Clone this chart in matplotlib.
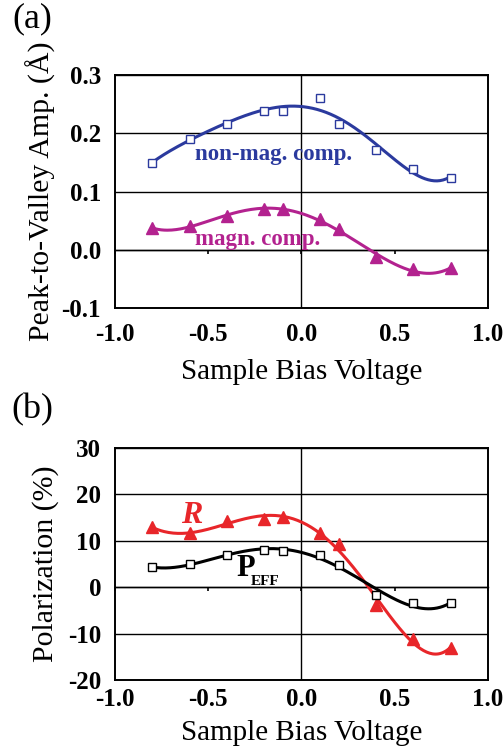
import numpy as np
import matplotlib
matplotlib.use("Agg")
import matplotlib.pyplot as plt

plt.rcParams['font.family'] = ['Liberation Serif', 'DejaVu Serif']

# bias voltages (same for both panels)
bias = [-0.8, -0.6, -0.4, -0.2, -0.1, 0.1, 0.2, 0.4, 0.6, 0.8]

# panel (a): peak-to-valley amplitude (Angstrom)
nonmag_amp = [0.149, 0.191, 0.216, 0.239, 0.239, 0.261, 0.216, 0.172, 0.139, 0.124]
magn_amp = [0.037, 0.041, 0.058, 0.070, 0.070, 0.052, 0.035, -0.013, -0.033, -0.032]

# panel (b): polarization (%)
peff_pol = [4.3, 5.0, 6.9, 8.1, 7.8, 7.0, 4.7, -1.6, -3.4, -3.5]
r_pol = [12.9, 11.6, 14.2, 14.7, 15.2, 11.6, 9.3, -3.8, -11.2, -13.1]

BLUE = '#2b3a9e'
MAGENTA = '#b3228f'
RED = '#e8262a'


def trend(x, y, deg=5):
    # polynomial trendline through the measured points
    coef = np.polyfit(x, y, deg)
    xs = np.linspace(min(x), max(x), 200)
    return xs, np.polyval(coef, xs)


def style_axes(ax, ylim, yticks, yfmt, zero_frac, xpad):
    ax.set_xlim(-1.0, 1.0)
    ax.set_ylim(*ylim)
    ax.set_xticks([-1.0, -0.5, 0.0, 0.5, 1.0])
    ax.set_xticklabels(['-1.0', '-0.5', '0.0', '0.5', '1.0'])
    ax.set_yticks(yticks)
    ax.set_yticklabels([yfmt.format(v) for v in yticks])
    for lab in ax.get_xticklabels() + ax.get_yticklabels():
        lab.set_fontweight('bold')
        lab.set_fontsize(18)
    ax.tick_params(axis='x', length=0, pad=xpad)
    ax.tick_params(axis='y', length=0, pad=10)
    for sp in ax.spines.values():
        sp.set_linewidth(1.4)
    ax.grid(axis='y', color='black', linewidth=1.0)
    ax.axvline(0, color='black', linewidth=1.0, zorder=1)
    # x axis crossing at y = 0 with small outward ticks
    sec = ax.secondary_xaxis(zero_frac)
    sec.set_xticks([-1.0, -0.5, 0.0, 0.5, 1.0])
    sec.tick_params(axis='x', direction='out', length=3, width=1.2, labelbottom=False, labeltop=False)
    sec.spines['bottom'].set_linewidth(1.0)
    ax.set_axisbelow(True)


fig = plt.figure(figsize=(5.04, 7.54), dpi=100)

# ---- panel (a) ----
ax1 = fig.add_axes([0.228, 0.5915, 0.740, 0.309])
xs, ys = trend(bias, nonmag_amp)
ax1.plot(xs, ys, color=BLUE, linewidth=2.2, zorder=3)
ax1.plot(bias, nonmag_amp, linestyle='none', marker='s', markersize=5.5,
         markerfacecolor='white', markeredgecolor=BLUE, markeredgewidth=1.0, zorder=4)
xs, ys = trend(bias, magn_amp)
ax1.plot(xs, ys, color=MAGENTA, linewidth=2.2, zorder=3)
ax1.plot(bias, magn_amp, linestyle='none', marker='^', markersize=8,
         color=MAGENTA, zorder=4)
style_axes(ax1, (-0.1, 0.3), [-0.1, 0.0, 0.1, 0.2, 0.3], '{:.1f}', 0.25, 11)
ax1.text(-0.57, 0.163, 'non-mag. comp.', color=BLUE, fontsize=16.5,
         fontweight='bold', va='center', ha='left', zorder=5)
ax1.text(-0.57, 0.018, 'magn. comp.', color=MAGENTA, fontsize=16.5,
         fontweight='bold', va='center', ha='left', zorder=5)
ax1.set_xlabel('Sample Bias Voltage', fontsize=21, labelpad=9)
ax1.set_ylabel('Peak-to-Valley Amp. (Å)', fontsize=21.5, labelpad=4)
fig.text(0.065, 0.975, '(a)', fontsize=26, ha='center', va='center')

# ---- panel (b) ----
ax2 = fig.add_axes([0.228, 0.0981, 0.740, 0.3077])
xs, ys = trend(bias, r_pol)
ax2.plot(xs, ys, color=RED, linewidth=2.2, zorder=3)
ax2.plot(bias, r_pol, linestyle='none', marker='^', markersize=9,
         color=RED, zorder=4)
xs, ys = trend(bias, peff_pol)
ax2.plot(xs, ys, color='black', linewidth=2.2, zorder=3)
ax2.plot(bias, peff_pol, linestyle='none', marker='s', markersize=5.5,
         markerfacecolor='white', markeredgecolor='black', markeredgewidth=1.0, zorder=4)
style_axes(ax2, (-20, 30), [-20, -10, 0, 10, 20, 30], '{:d}', 0.4, 6)
ax2.text(-0.59, 15.4, 'R', color=RED, fontsize=23, fontweight='bold',
         fontstyle='italic', ha='center', va='center', zorder=5)
ax2.text(-0.35, 4.0, 'P', color='black', fontsize=22,
         fontweight='bold', ha='left', va='center', zorder=5)
ax2.text(-0.27, 1.3, 'EFF', color='black', fontsize=11,
         fontweight='bold', ha='left', va='center', zorder=5)
ax2.set_xlabel('Sample Bias Voltage', fontsize=21, labelpad=6)
ax2.set_ylabel('Polarization (%)', fontsize=21.5, labelpad=6)
fig.text(0.065, 0.457, '(b)', fontsize=26, ha='center', va='center')

fig.savefig('out.png', dpi=100)
